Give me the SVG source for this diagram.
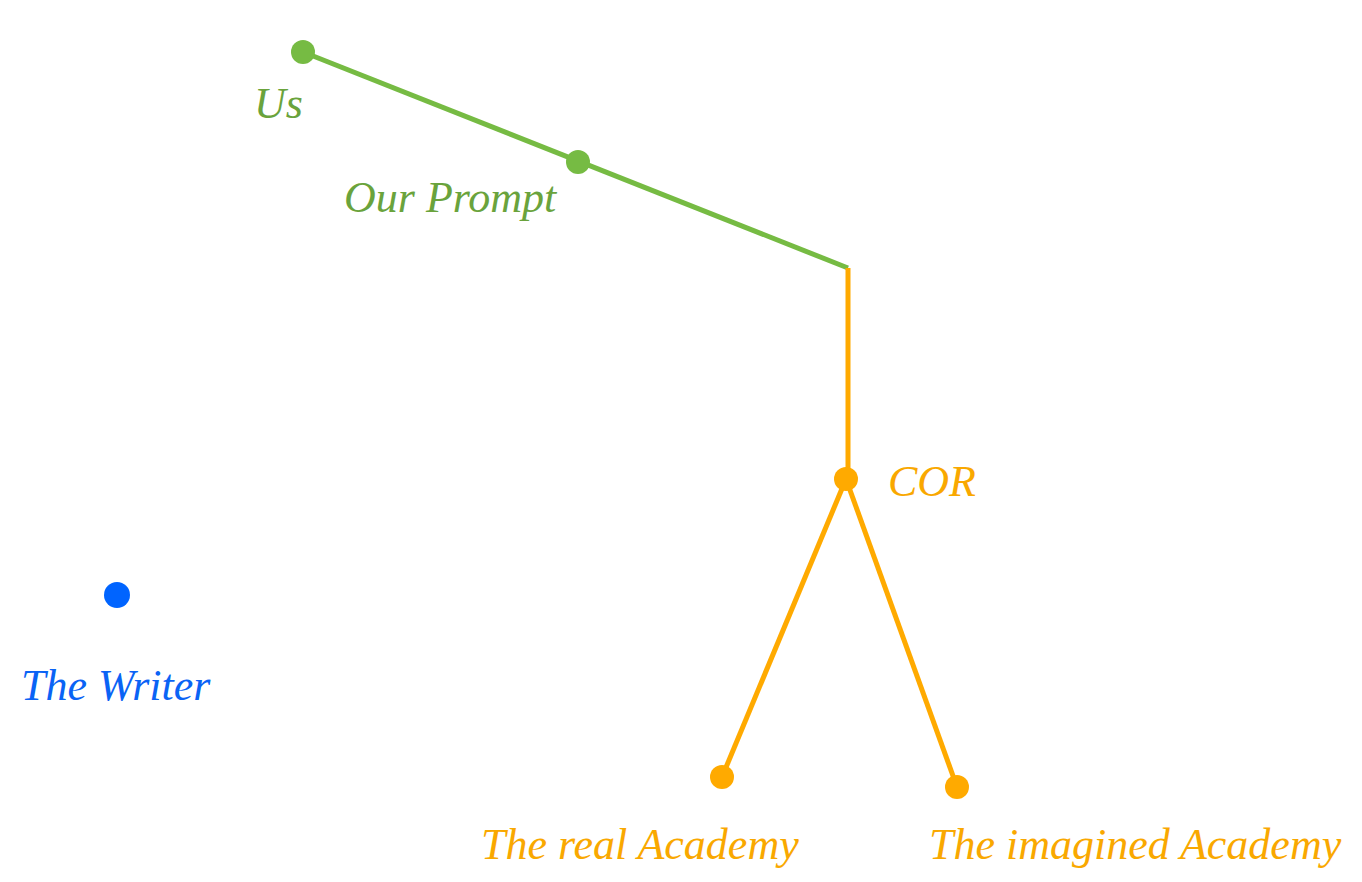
<svg xmlns="http://www.w3.org/2000/svg" width="1362" height="882" viewBox="0 0 1362 882">
<style>
text{font-family:"Liberation Serif","DejaVu Serif",serif;font-style:italic;font-size:44px}
.g{fill:#6aa33c}.o{fill:#f9a800}.b{fill:#0a63f5}
.gl{stroke:#76bb43;stroke-width:5;fill:none}
.ol{stroke:#ffaa00;stroke-width:5;fill:none}
.gd{fill:#76bb43}.od{fill:#ffaa00}.bd{fill:#0064ff}
</style>
<rect width="1362" height="882" fill="#fff"/>
<g id="connectors">
<path class="gl" d="M303,52 L848,268"/>
<path class="ol" d="M848,268 L848,479"/>
<path class="ol" d="M846,479 L722,777"/>
<path class="ol" d="M846,479 L957,787"/>
</g>
<g id="us"><circle class="gd" cx="303" cy="52" r="12"/><text class="g" x="254" y="118">Us</text></g>
<g id="prompt"><circle class="gd" cx="578" cy="162" r="12"/><text class="g" x="344" y="212">Our Prompt</text></g>
<g id="cor"><circle class="od" cx="846" cy="479" r="12"/><text class="o" x="888" y="496">COR</text></g>
<g id="real"><circle class="od" cx="722" cy="777" r="12"/><text class="o" x="481" y="859">The real Academy</text></g>
<g id="imagined"><circle class="od" cx="957" cy="787" r="12"/><text class="o" x="929" y="859">The imagined Academy</text></g>
<g id="writer"><circle class="bd" cx="117" cy="595" r="13"/><text class="b" x="21" y="700">The Writer</text></g>
</svg>
